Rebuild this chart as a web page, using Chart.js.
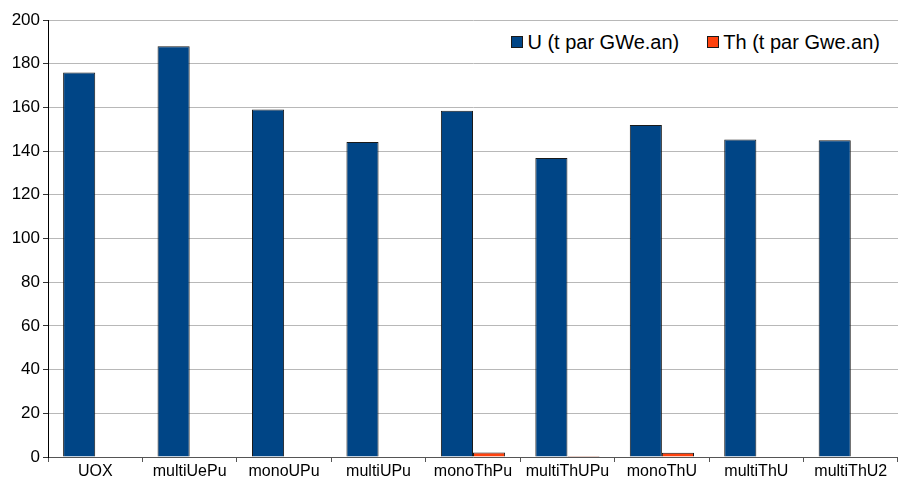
<!DOCTYPE html>
<html>
<head>
<meta charset="utf-8">
<script src="https://cdn.jsdelivr.net/npm/chart.js@4/dist/chart.umd.min.js"></script>
<style>
  html, body { margin: 0; padding: 0; background: #fff; }
  #wrap { width: 898px; height: 479px; position: relative; }
  #legend { position: absolute; top: 31px; right: 16px; display: flex; gap: 28px;
            font-family: 'Liberation Sans', Arial, sans-serif; font-size: 20px; color: #000;
            background: #fff; padding: 0 2px; line-height: 22px; }
  #legend span.item { display: flex; align-items: center; }
  #legend span.box { display: inline-block; width: 10px; height: 10px; border: 1px solid #1a1a1a;
                     margin-right: 4px; }
</style>
</head>
<body>
<div id="wrap"><canvas id="chart"></canvas><div id="legend"></div></div>
<script>
// scenario names
let categories = ["UOX", "multiUePu", "monoUPu", "multiUPu", "monoThPu", "multiThUPu", "monoThU", "multiThU", "multiThU2"];
// uranium and thorium needs
let uranium = [176, 188, 159, 144.2, 158.5, 136.8, 152, 145.3, 145];
let thorium = [0, 0, 0, 0, 2.1, 0.5, 2.0, 0.2, 0.2];
let yTicks = [0, 20, 40, 60, 80, 100, 120, 140, 160, 180, 200];

const font = "'Liberation Sans', Arial, sans-serif";

let chart = new Chart(document.getElementById("chart"), {
    type: "bar",
    data: {
        labels: categories,
        datasets: [
            {
                label: "U (t par GWe.an)",
                data: uranium,
                backgroundColor: "#004586",
                borderColor: "#1a1a1a",
                borderWidth: 1,
                categoryPercentage: 0.68,
                barPercentage: 1.0
            },
            {
                label: "Th (t par Gwe.an)",
                data: thorium,
                backgroundColor: "#ff420e",
                borderColor: "#1a1a1a",
                borderWidth: 1,
                categoryPercentage: 0.68,
                barPercentage: 1.0
            }
        ]
    },
    options: {
        responsive: true,
        maintainAspectRatio: false,
        animation: false,
        layout: { padding: { top: 20, right: 0, left: 0, bottom: 0 } },
        plugins: {
            tooltip: { enabled: false },
            legend: { display: false }
        },
        scales: {
            x: {
                grid: {
                    drawOnChartArea: false,
                    drawTicks: true,
                    tickLength: 5,
                    tickColor: "#555"
                },
                border: { color: "#555", width: 1 },
                ticks: {
                    color: "#000",
                    padding: 0,
                    maxRotation: 0,
                    font: { family: font, size: 16 }
                },
                afterFit: (scale) => { scale.height = 22; }
            },
            y: {
                min: 0,
                max: 200,
                afterBuildTicks: (scale) => { scale.ticks = yTicks.map(v => ({ value: v })); },
                grid: {
                    color: "#b8b8b8",
                    tickColor: "#333",
                    tickLength: 5
                },
                border: { color: "#000", width: 1 },
                ticks: {
                    color: "#000",
                    padding: 3,
                    font: { family: font, size: 17 }
                },
                afterFit: (scale) => { scale.width = 48; }
            }
        }
    }
});

// legend built from the datasets
let legend = document.getElementById("legend");
chart.data.datasets.forEach(ds => {
    legend.innerHTML += `
        <span class="item"><span class="box" style="background:${ds.backgroundColor}"></span>${ds.label}</span>
    `;
});
</script>
</body>
</html>
